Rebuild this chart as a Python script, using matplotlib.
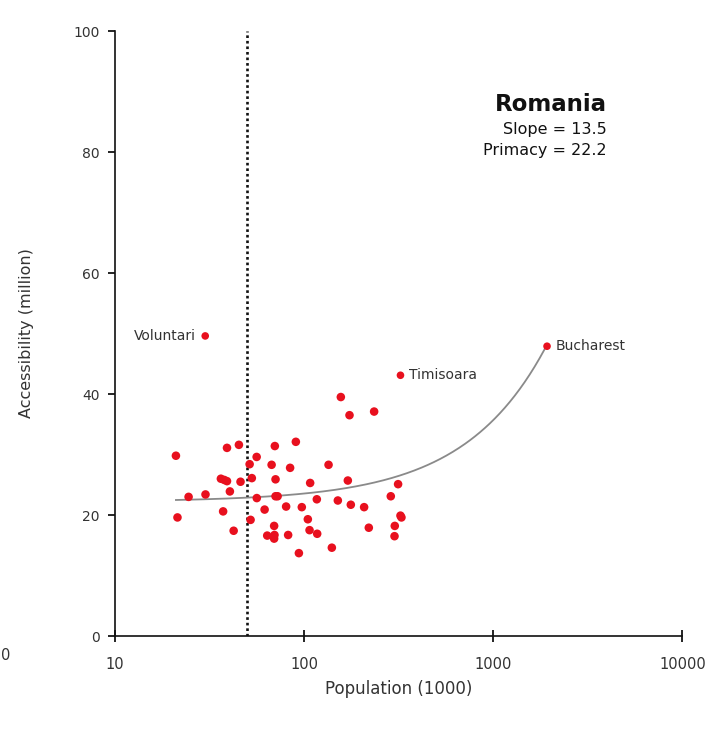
#!/usr/bin/env python3

from matplotlib import pyplot as plt

import numpy as np


SLOPE = 13.5
PRIMACY = 22.2
THRESHOLD = 50  # population cut-off (1000)

# city population (1000) and accessibility (million)
population = [
    21.0, 39.1, 45.2, 70.0, 90.4, 56.1, 51.5, 67.3, 84.3, 134.6,
    36.3, 37.8, 39.1, 46.1, 52.9, 70.6, 107.6, 170.2, 313.8, 40.5,
    24.5, 30.1, 56.2, 70.6, 72.4, 116.7, 150.7, 176.5, 207.5, 287.1,
    21.4, 37.3, 61.8, 80.3, 97.2, 52.1, 104.6, 106.8, 117.2, 42.4,
    69.4, 63.8, 69.7, 69.4, 82.3, 93.8, 140.1, 219.7, 323.0, 326.9,
    301.4, 300.4, 156.3, 173.7, 234.4,
]
accessibility = [
    29.8, 31.1, 31.6, 31.4, 32.1, 29.6, 28.4, 28.3, 27.8, 28.3,
    26.0, 25.8, 25.6, 25.5, 26.1, 25.9, 25.3, 25.7, 25.1, 23.9,
    23.0, 23.4, 22.8, 23.1, 23.1, 22.6, 22.4, 21.7, 21.3, 23.1,
    19.6, 20.6, 20.9, 21.4, 21.3, 19.2, 19.3, 17.5, 16.9, 17.4,
    18.2, 16.6, 16.7, 16.1, 16.7, 13.7, 14.6, 17.9, 19.9, 19.6,
    18.2, 16.5, 39.5, 36.5, 37.1,
]

named_cities = ['Voluntari', 'Timisoara', 'Bucharest']
named_population = [30.0, 323.0, 1923.0]
named_accessibility = [49.6, 43.1, 47.9]
named_side = ['left', 'right', 'right']

x_ticks = [10, 100, 1000, 10000]
y_ticks = [0, 20, 40, 60, 80, 100]

RED = '#e8101e'
TEXT = '#333333'

plt.rcParams['font.family'] = 'DejaVu Sans'

fig = plt.figure(figsize=(7.11, 7.33), dpi=100)
ax = fig.add_axes([0.1617, 0.1323, 0.7982, 0.8254])

# fitted line: accessibility = primacy + slope * population (million)
all_pop = population + named_population
xs = np.geomspace(min(all_pop), max(all_pop), 300)
ax.plot(xs, PRIMACY + SLOPE * xs / 1000, color='#8a8a8a', linewidth=1.3, zorder=2)

ax.plot([THRESHOLD, THRESHOLD], [0, 100], color='#111111', linewidth=1.9,
        linestyle=(0, (1, 1.1)), zorder=1)

ax.scatter(population, accessibility, s=38, color=RED, edgecolors='none', zorder=3)
ax.scatter(named_population, named_accessibility, s=30, color=RED,
           edgecolors='none', zorder=3)

for name, px, py, side in zip(named_cities, named_population,
                              named_accessibility, named_side):
    dx = -6.5 if side == 'left' else 6.5
    ax.annotate(name, (px, py), xytext=(dx, 0), textcoords='offset points',
                ha='right' if side == 'left' else 'left', va='center',
                fontsize=10, color=TEXT)

ax.text(0.867, 0.879, 'Romania', transform=ax.transAxes, ha='right',
        va='center', fontsize=16.5, fontweight='bold', color='#111111')
ax.text(0.867, 0.838, 'Slope = {}'.format(SLOPE), transform=ax.transAxes,
        ha='right', va='center', fontsize=11.5, color='#111111')
ax.text(0.867, 0.803, 'Primacy = {}'.format(PRIMACY), transform=ax.transAxes,
        ha='right', va='center', fontsize=11.5, color='#111111')

ax.set_xscale('log')
ax.set_xlim(10, 10000)
ax.set_ylim(0, 100)
ax.set_xticks(x_ticks)
ax.set_xticklabels([str(t) for t in x_ticks])
ax.xaxis.set_minor_locator(plt.NullLocator())
ax.set_yticks(y_ticks)

for side in ('top', 'right'):
    ax.spines[side].set_visible(False)
for side in ('left', 'bottom'):
    ax.spines[side].set_linewidth(1.2)
    ax.spines[side].set_color('#111111')

ax.tick_params(axis='x', direction='inout', length=8, width=1.2, pad=11,
               labelsize=10.5, labelcolor=TEXT)
ax.tick_params(axis='y', direction='out', length=5, width=1.2, pad=6,
               labelsize=10, labelcolor=TEXT)

ax.set_xlabel('Population (1000)', fontsize=12, color=TEXT, labelpad=6)
ax.set_ylabel('Accessibility (million)', fontsize=11.5, color=TEXT, labelpad=28)

# remnant of the neighbouring panel's tick label
fig.text(1 / 711, 1 - 655 / 733, '0', ha='left', va='center',
         fontsize=10.5, color=TEXT)

fig.savefig('out.png', dpi=100, facecolor='white')
